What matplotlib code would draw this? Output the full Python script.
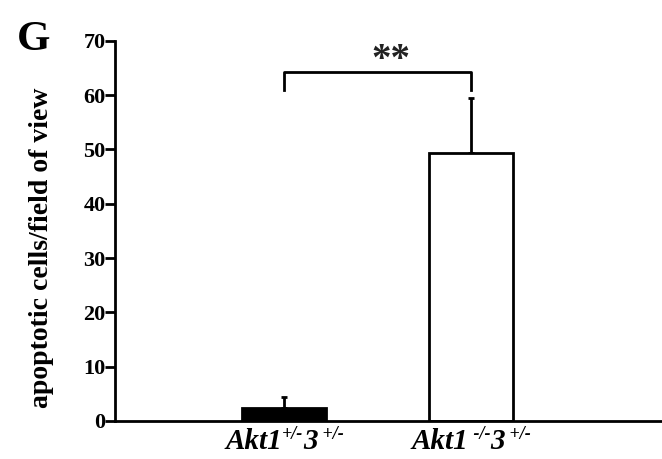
import numpy as np
import matplotlib
matplotlib.use("Agg")
import matplotlib.pyplot as plt

# === Data ===
# each x label: list of (text, is_superscript)
group_labels = [
    [("Akt1", False), ("+/-", True), ("3", False), (" +/-", True)],
    [("Akt1", False), (" -/-", True), ("3", False), (" +/-", True)],
]
means = [2.4, 49.3]
errs = [2.0, 10.2]
yticks = [0, 10, 20, 30, 40, 50, 60, 70]

# === Fonts ===
plt.rcParams["font.family"] = "Liberation Serif"
plt.rcParams["font.weight"] = "bold"

fig = plt.figure(figsize=(6.62, 4.59), dpi=100)
ax = fig.add_axes([0.174, 0.083, 0.826, 0.828])

x = np.arange(1, len(means) + 1)
lw = 2.0
ax.bar(x, means, width=0.45, color=["black", "white"], edgecolor="black", linewidth=lw, zorder=2)
ax.errorbar(x, means, yerr=[np.zeros(len(errs)), errs], fmt="none", ecolor="black",
            elinewidth=lw, capsize=2.5, capthick=lw, zorder=1)

# significance bracket
ax.plot([1, 1, 2, 2], [61, 64.3, 64.3, 61], color="black", lw=lw, clip_on=False)
ax.text(1.57, 66.4, "**", ha="center", va="center", fontsize=28, fontweight="bold", color="#222222")

ax.set_xlim(0.096, 3.02)
ax.set_ylim(0, 70)
ax.set_yticks(yticks)
ax.set_yticklabels([str(t) for t in yticks], fontsize=16, fontweight="bold")
ax.set_xticks([])
ax.tick_params(axis="y", length=7, width=lw, pad=0)
ax.spines["top"].set_visible(False)
ax.spines["right"].set_visible(False)
ax.spines["left"].set_linewidth(lw)
ax.spines["bottom"].set_linewidth(lw)
ax.set_ylabel("apoptotic cells/field of view", fontsize=20, fontweight="bold")
ax.yaxis.set_label_coords(-0.112, 0.455)

fig.text(0.025, 0.955, "G", fontsize=31, fontweight="bold", va="top")

# === x labels built piece by piece (italic with superscripts) ===
renderer = fig.canvas.get_renderer()
main_size, sup_size = 21, 13
baseline_px = 459 - 449
sup_raise_px = 10
for xi, parts in zip(x, group_labels):
    texts, widths = [], []
    for s, sup in parts:
        t = fig.text(0, 0, s, fontsize=sup_size if sup else main_size, fontstyle="italic",
                     fontweight="bold", va="baseline", ha="left", transform=None)
        widths.append(t.get_window_extent(renderer).width)
        texts.append((t, sup))
    total = sum(widths)
    cx = ax.transData.transform((xi, 0))[0]
    left = cx - total / 2
    for (t, sup), w in zip(texts, widths):
        t.set_position((left, baseline_px + (sup_raise_px if sup else 0)))
        left += w

fig.savefig("out.png", dpi=100)
